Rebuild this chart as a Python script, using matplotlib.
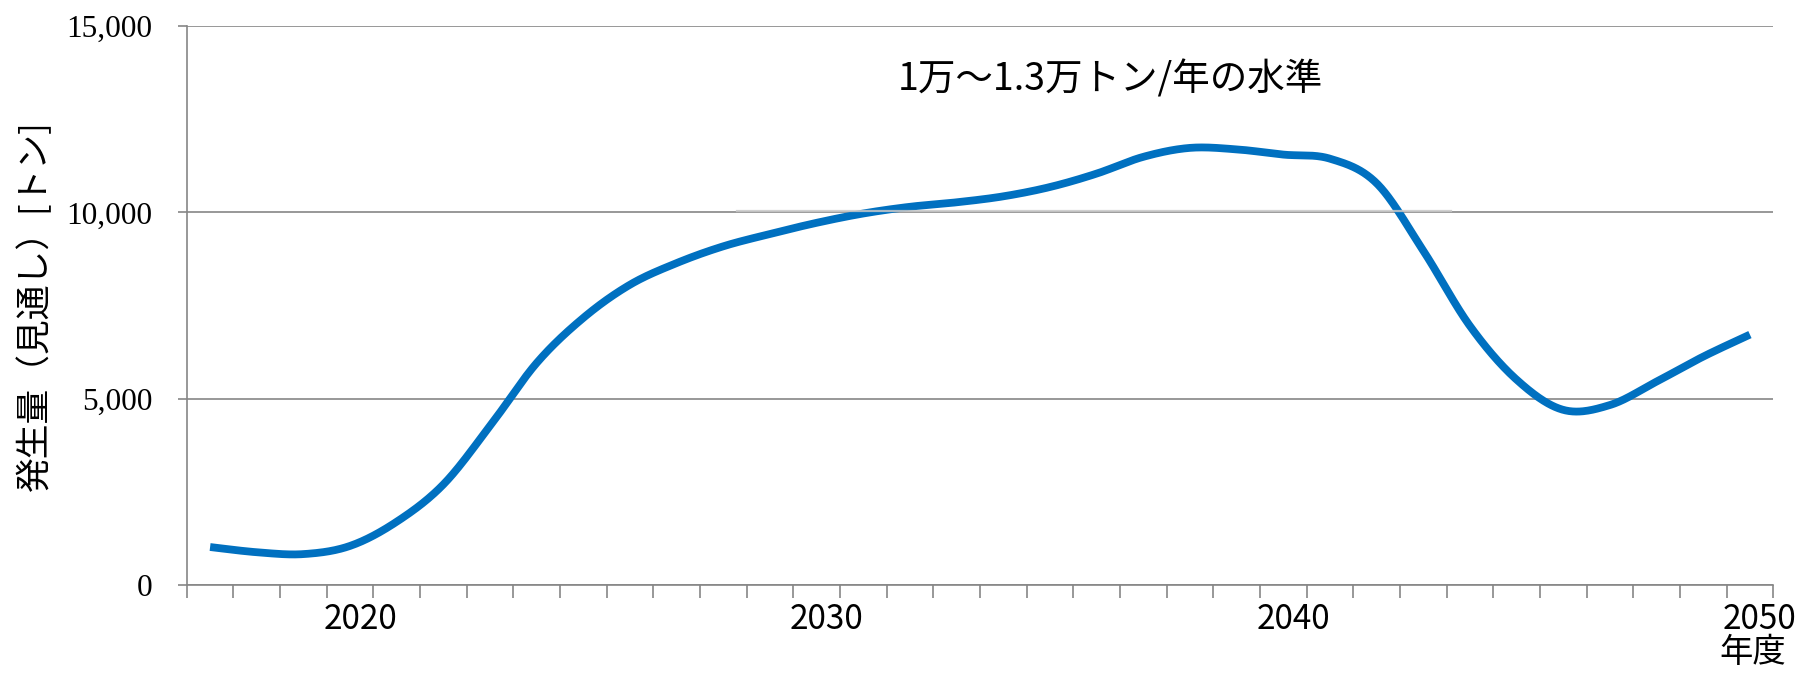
import numpy as np
import matplotlib
matplotlib.use('Agg')
import matplotlib.pyplot as plt
from matplotlib.ticker import FuncFormatter
from matplotlib.transforms import ScaledTranslation

plt.rcParams['font.family'] = ['Noto Sans CJK JP', 'DejaVu Sans']

# data
years = list(range(2017, 2051))
amount = [1020, 880, 830, 1050, 1700, 2700, 4270, 5960, 7170, 8060,
          8640, 9090, 9420, 9720, 9970, 10150, 10270, 10430, 10680, 11040,
          11490, 11730, 11690, 11550, 11440, 10780, 8970, 6950, 5510, 4700,
          4830, 5460, 6130, 6720]
year_labels = [2020, 2030, 2040, 2050]
y_ticks = [0, 5000, 10000, 15000]
level_x = [2028.3, 2043.6]
level_y = [10040, 10040]
level_text = '1万～1.3万トン/年の水準'
level_text_pos = (2036.3, 13550)
ylabel = '発生量（見通し）[トン]'
xlabel = '年度'

blue = '#0070C0'
grid_c = '#868686'


def smooth(x, y, n=40):
    # bezier smoothing like a spreadsheet "smoothed line"
    p = np.column_stack([x, y]).astype(float)
    p = np.vstack([p[:1], p, p[-1:]])
    t = np.linspace(0, 1, n, endpoint=False)[:, None]
    segs = []
    for i in range(1, len(p) - 2):
        p0, p1, p2, p3 = p[i - 1], p[i], p[i + 1], p[i + 2]
        c1 = p1 + (p2 - p0) / 6
        c2 = p2 - (p3 - p1) / 6
        segs.append((1 - t) ** 3 * p1 + 3 * (1 - t) ** 2 * t * c1
                    + 3 * (1 - t) * t ** 2 * c2 + t ** 3 * p2)
    segs.append(p[-2:-1])
    out = np.vstack(segs)
    return out[:, 0], out[:, 1]


fig = plt.figure(figsize=(18.01, 6.74), dpi=100)
ax = fig.add_axes([0.1037, 0.132, 0.8809, 0.8294])

sx, sy = smooth(years, amount)
ax.plot(sx, sy, color=blue, lw=5.6, solid_capstyle='butt', zorder=3)
ax.plot(level_x, level_y, color='#c8c8c8', lw=1.6, alpha=0.85, zorder=4)

ax.text(level_text_pos[0], level_text_pos[1], level_text, fontsize=27,
        ha='center', va='center')

ax.set_xlim(years[0] - 0.5, years[-1] + 0.5)
ax.set_ylim(y_ticks[0], y_ticks[-1])

# year boundaries as tick marks, labels at decades
ax.set_xticks(np.arange(years[0] - 0.5, years[-1] + 1, 1))
ax.set_xticklabels([])
ax.set_xticks(year_labels, minor=True)
ax.set_xticklabels([str(y) for y in year_labels], minor=True)
ax.tick_params(axis='x', which='major', length=9, width=1.2, color=grid_c)
ax.tick_params(axis='x', which='minor', length=0, pad=12, labelsize=24)
off = ScaledTranslation(10 / 100, 0, fig.dpi_scale_trans)
for lab in ax.get_xticklabels(minor=True):
    lab.set_transform(lab.get_transform() + off)

ax.set_yticks(y_ticks)
ax.yaxis.set_major_formatter(FuncFormatter(lambda v, p: '{:,}'.format(int(v))))
ax.tick_params(axis='y', length=6.7, width=1.2, color=grid_c, pad=18)
for lab in ax.get_yticklabels():
    lab.set_fontfamily('Liberation Serif')
    lab.set_fontsize(22.5)

ax.yaxis.grid(True, color=grid_c, lw=1.2)
ax.set_axisbelow(True)
for s in ['top', 'right']:
    ax.spines[s].set_visible(False)
for s in ['left', 'bottom']:
    ax.spines[s].set_color(grid_c)
    ax.spines[s].set_linewidth(1.2)

fig.text(0.0194, 0.5467, ylabel, rotation=90, fontsize=25,
         ha='center', va='center')
fig.text(1753 / 1801, 0.018, xlabel, fontsize=24, ha='center', va='baseline')

fig.savefig('out.png', dpi=100)
